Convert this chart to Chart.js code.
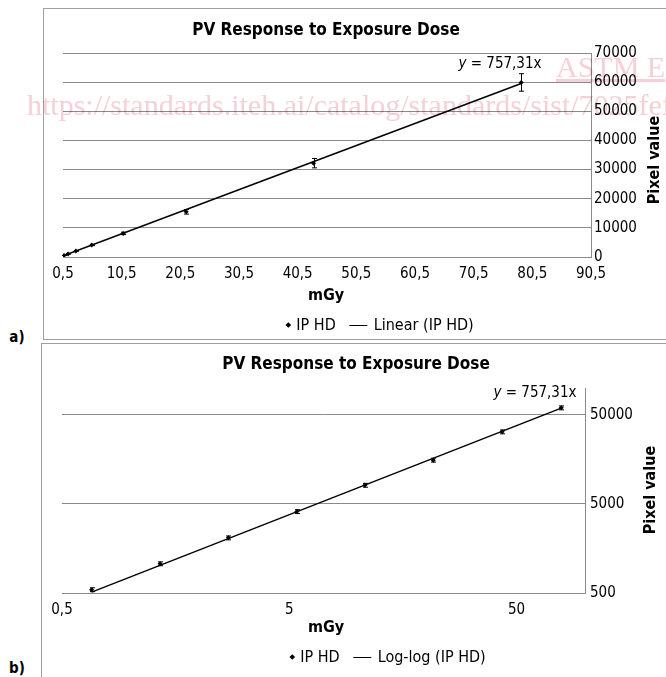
<!DOCTYPE html>
<html>
<head>
<meta charset="utf-8">
<script src="https://cdn.jsdelivr.net/npm/chart.js@4.4.1/dist/chart.umd.min.js"></script>
<style>
  html, body { margin: 0; padding: 0; background: #fff; overflow: hidden; }
  #page { position: relative; width: 666px; height: 677px; overflow: hidden;
          font-family: "DejaVu Sans Condensed", "DejaVu Sans", sans-serif; color: #000; }
  .frame { position: absolute; border: 1px solid #a0a0a0; }
  canvas { position: absolute; display: block; }
  .lbl { position: absolute; white-space: nowrap; line-height: 1; transform: translate(-50%, -50%); }
  .title { font-weight: bold; font-size: 17px; }
  .axt { font-weight: bold; font-size: 16px; }
  .rot { transform: translate(-50%, -50%) rotate(-90deg); }
  .eq { font-size: 15px; }
  .legend { font-size: 16px; display: flex; align-items: center; }
  .mk { display: inline-block; width: 4px; height: 4px; background: #000; transform: rotate(45deg); margin-right: 6px; }
  .ln { display: inline-block; width: 18px; height: 0; border-top: 1.5px solid #000; margin: 0 6px 0 14px; }
  .tag { font-weight: bold; font-size: 15px; }
  .wm { position: absolute; white-space: nowrap; font-family: "Liberation Serif", serif; font-size: 30px;
        color: #f6d0d7; mix-blend-mode: multiply; pointer-events: none; line-height: 1; }
</style>
</head>
<body>
<div id="page">
  <div class="frame" style="left:43px; top:8px; width:700px; height:330px;"></div>
  <div class="frame" style="left:41px; top:343px; width:700px; height:333px;"></div>
  <canvas id="chartA" width="640" height="331" style="left:43px; top:8px;"></canvas>
  <canvas id="chartB" width="640" height="333" style="left:41px; top:343px;"></canvas>

  <div class="lbl title" style="left:326px; top:29px;">PV Response to Exposure Dose</div>
  <div class="lbl eq" style="left:500px; top:63px;"><i>y</i> = 757,31x</div>
  <div class="lbl axt" style="left:326px; top:295px;">mGy</div>
  <div class="lbl axt rot" style="left:654px; top:160px;">Pixel value</div>
  <div class="lbl legend" style="left:380px; top:325px;"><span class="mk"></span>IP HD<span class="ln"></span>Linear (IP HD)</div>
  <div class="lbl tag" style="left:17px; top:337px;">a)</div>

  <div class="lbl title" style="left:356px; top:363px;">PV Response to Exposure Dose</div>
  <div class="lbl eq" style="left:535px; top:392px;"><i>y</i> = 757,31x</div>
  <div class="lbl axt" style="left:326px; top:627px;">mGy</div>
  <div class="lbl axt rot" style="left:650px; top:490px;">Pixel value</div>
  <div class="lbl legend" style="left:388px; top:657px;"><span class="mk"></span>IP HD<span class="ln"></span>Log-log (IP HD)</div>
  <div class="lbl tag" style="left:17px; top:668px;">b)</div>

  <div class="wm" style="left:27px; top:90px;">https://standards.iteh.ai/catalog/standards/sist/7025fef</div>
  <div class="wm" style="left:556px; top:52px; text-decoration: underline;">ASTM E</div>
</div>

<script>
// measured points (dose in mGy, mean pixel value, error bar half-length)
const doseMGy = [0.675, 1.35, 2.7, 5.4, 10.75, 21.5, 43.2, 78.6];
const pixelValue = [545, 1065, 2080, 4100, 8100, 15500, 32200, 59900];
const pixelErr = [27, 53, 104, 205, 405, 780, 1610, 3000];

// fitted line y = 757,31x, read at both ends of the data range
const trendDose = [0.675, 78.6];
const trendPixel = [511, 59525];

// tick labels
const linTicksX = [0.5, 10.5, 20.5, 30.5, 40.5, 50.5, 60.5, 70.5, 80.5, 90.5];
const linTicksY = [0, 10000, 20000, 30000, 40000, 50000, 60000, 70000];
const logTicksX = [0.5, 5, 50];
const logTicksY = [500, 5000, 50000];

Chart.defaults.font.family = '"DejaVu Sans Condensed", "DejaVu Sans", sans-serif';
Chart.defaults.font.size = 15;
Chart.defaults.color = '#000';

const gridGrey = '#8a8a8a';

const errorBars = {
    id: 'errorBars',
    afterDatasetsDraw(chart) {
        const ctx = chart.ctx;
        const xs = chart.scales.x;
        const ys = chart.scales.y;
        ctx.save();
        ctx.strokeStyle = '#000';
        ctx.lineWidth = 1;
        doseMGy.forEach((d, i) => {
            const px = Math.round(xs.getPixelForValue(d)) + 0.5;
            const top = ys.getPixelForValue(pixelValue[i] + pixelErr[i]);
            const bot = ys.getPixelForValue(pixelValue[i] - pixelErr[i]);
            ctx.beginPath();
            ctx.moveTo(px, top); ctx.lineTo(px, bot);
            ctx.moveTo(px - 2.5, top); ctx.lineTo(px + 2.5, top);
            ctx.moveTo(px - 2.5, bot); ctx.lineTo(px + 2.5, bot);
            ctx.stroke();
        });
        ctx.restore();
    }
};

function fmt(v) {
    return String(v).replace('.', ',');
}

function makeChart(id, opts) {
    const ctx = document.getElementById(id).getContext('2d');
    return new Chart(ctx, {
        type: 'scatter',
        data: {
            datasets: [{
                label: 'IP HD',
                data: doseMGy.map((d, i) => ({ x: d, y: pixelValue[i] })),
                pointStyle: 'rectRot',
                pointRadius: 2.5,
                backgroundColor: '#000',
                borderColor: '#000',
                borderWidth: 0,
                showLine: false,
                order: 0
            }, {
                label: opts.trendLabel,
                type: 'line',
                data: trendDose.map((d, i) => ({ x: d, y: trendPixel[i] })),
                borderColor: '#000',
                borderWidth: 1.4,
                pointRadius: 0,
                fill: false,
                order: 1
            }]
        },
        options: {
            responsive: false,
            animation: false,
            layout: { padding: { left: opts.left, top: opts.top, right: 0, bottom: 0 } },
            plugins: { legend: { display: false }, title: { display: false }, tooltip: { enabled: false } },
            scales: {
                x: {
                    type: opts.xType,
                    min: opts.xMin,
                    max: opts.xMax,
                    afterBuildTicks: s => { s.ticks = opts.xTicks.map(v => ({ value: v })); },
                    afterFit: s => { s.height = opts.bottomH; },
                    ticks: { callback: v => fmt(v), padding: 8, maxRotation: 0, autoSkip: false },
                    grid: { drawOnChartArea: false, drawTicks: false },
                    border: { display: true, color: gridGrey, width: 1 }
                },
                y: {
                    type: opts.yType,
                    position: 'right',
                    min: opts.yMin,
                    max: opts.yMax,
                    afterBuildTicks: s => { s.ticks = opts.yTicks.map(v => ({ value: v })); },
                    afterFit: s => { s.width = opts.rightW; },
                    ticks: { callback: v => String(v), padding: opts.yPad, autoSkip: false },
                    grid: { color: gridGrey, lineWidth: 1, drawTicks: false },
                    border: { display: true, color: gridGrey, width: 1 }
                }
            }
        },
        plugins: [errorBars]
    });
}

makeChart('chartA', {
    trendLabel: 'Linear (IP HD)',
    xType: 'linear', xMin: 0.5, xMax: 90.5, xTicks: linTicksX,
    yType: 'linear', yMin: 0, yMax: 70000, yTicks: linTicksY,
    left: 20, top: 45, bottomH: 82, rightW: 92, yPad: 3
});

makeChart('chartB', {
    trendLabel: 'Log-log (IP HD)',
    xType: 'logarithmic', xMin: 0.5, xMax: 100, xTicks: logTicksX,
    yType: 'logarithmic', yMin: 500, yMax: 100000, yTicks: logTicksY,
    left: 21, top: 45, bottomH: 83, rightW: 96, yPad: 5
});
</script>
</body>
</html>
